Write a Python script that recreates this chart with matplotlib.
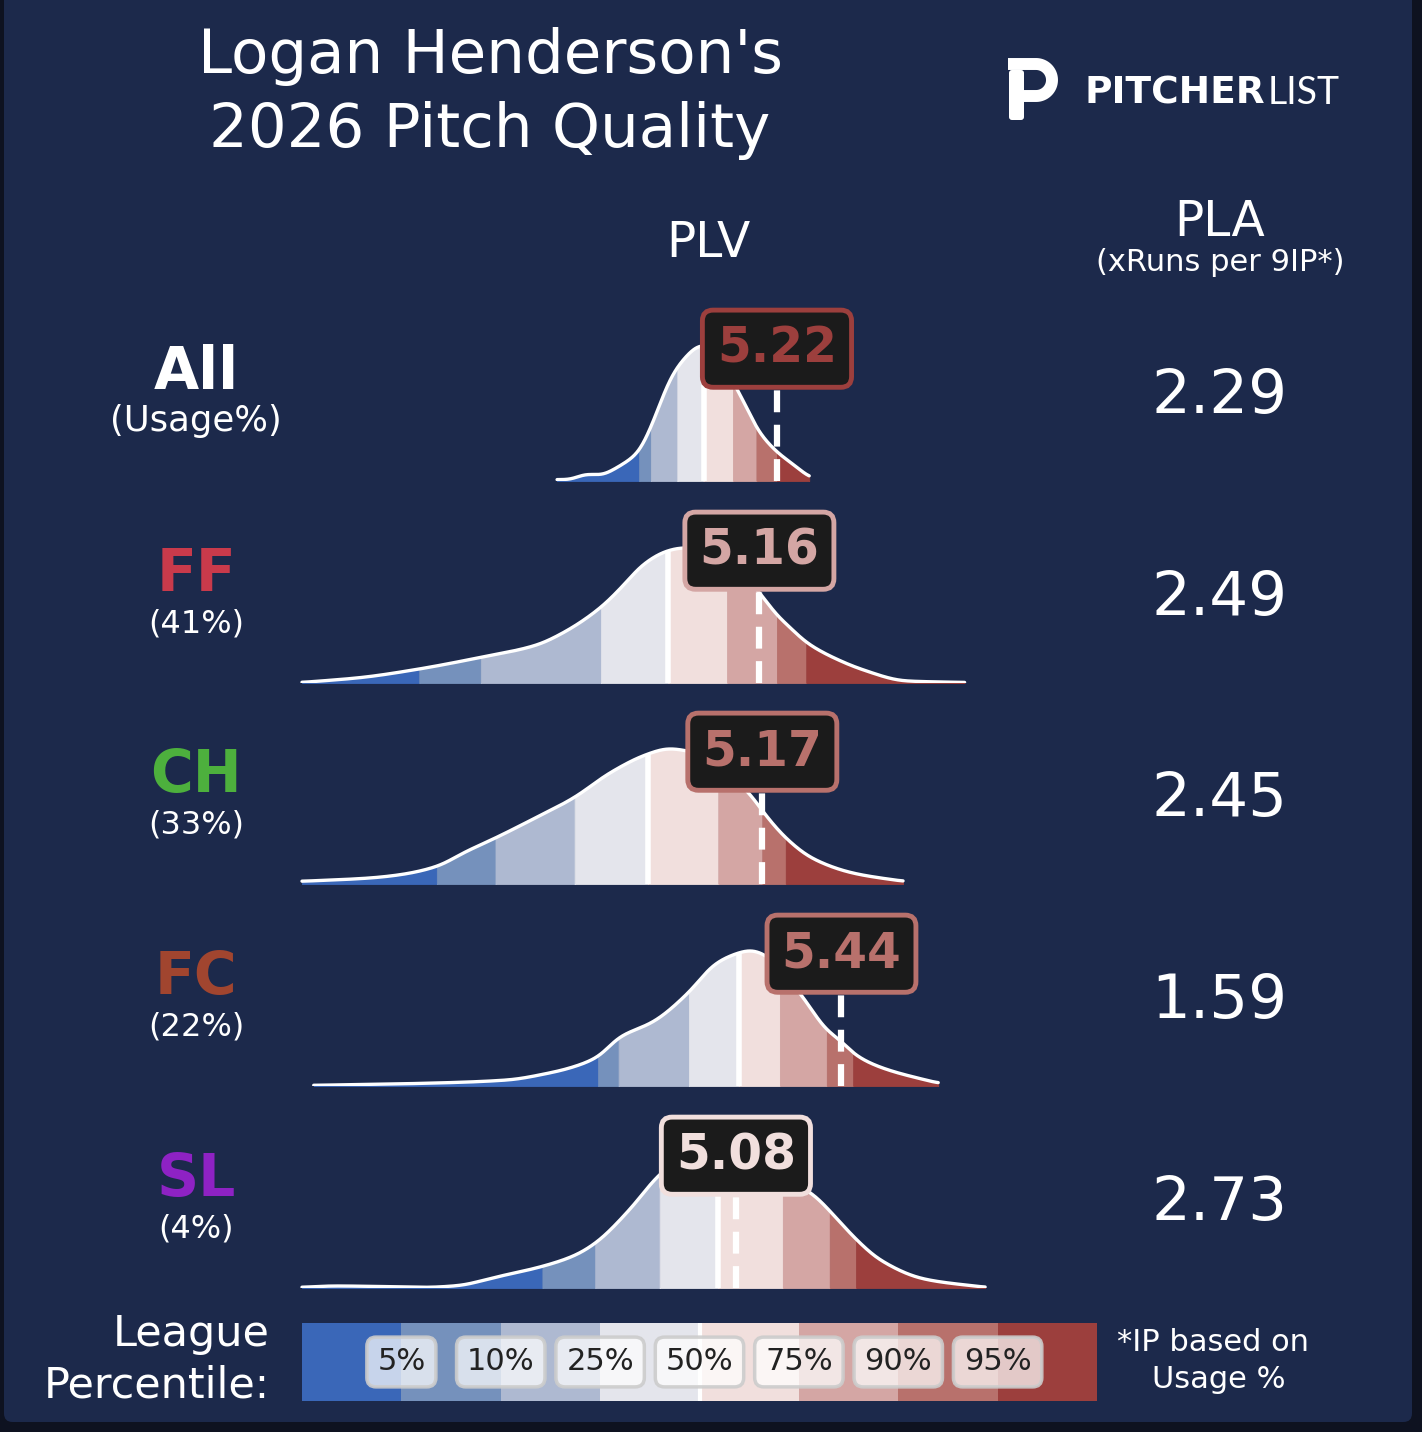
import numpy as np
import matplotlib
matplotlib.use("Agg")
import matplotlib.pyplot as plt
from matplotlib.patches import FancyBboxPatch

# ---------------- data ----------------
PITCHES = ["All", "FF", "CH", "FC", "SL"]
USAGE = ["(Usage%)", "(41%)", "(33%)", "(22%)", "(4%)"]
PITCH_COLORS = ["white", "#c93a4b", "#4db03d", "#a1452f", "#8e22c4"]
PLV = [5.22, 5.16, 5.17, 5.44, 5.08]
PLA = [2.29, 2.49, 2.45, 1.59, 2.73]

PCT_LABELS = ["5%", "10%", "25%", "50%", "75%", "90%", "95%"]
BAND_COLORS = ["#3a67b8", "#7591bc", "#aeb9d1", "#e4e5ec",
               "#f1dfdd", "#d4a6a4", "#b8716c", "#9c3f3d"]

# league percentile thresholds (5,10,25,50,75,90,95) per pitch
ALL_T = [4.75, 4.79, 4.88, 4.97, 5.07, 5.15, 5.22]
FF_T = [4.00, 4.21, 4.62, 4.85, 5.05, 5.22, 5.32]
CH_T = [4.06, 4.26, 4.53, 4.78, 5.02, 5.17, 5.25]
FC_T = [4.61, 4.68, 4.92, 5.09, 5.23, 5.39, 5.48]
SL_T = [4.42, 4.60, 4.82, 5.02, 5.24, 5.40, 5.49]

# density curves (PLV value, relative density)
ALL_X = [4.47, 4.52, 4.56, 4.59, 4.62, 4.66, 4.70, 4.75, 4.79, 4.81, 4.84, 4.88, 4.91,
         4.94, 4.97, 5.01, 5.04, 5.08, 5.12, 5.15, 5.21, 5.23, 5.27, 5.30, 5.33]
ALL_Y = [0.01, 0.01, 0.05, 0.05, 0.04, 0.08, 0.13, 0.21, 0.39, 0.49, 0.67, 0.83, 0.90,
         0.97, 0.99, 0.95, 0.84, 0.68, 0.52, 0.38, 0.23, 0.19, 0.13, 0.08, 0.02]
FF_X = [3.60, 3.80, 3.99, 4.21, 4.40, 4.49, 4.62, 4.70, 4.76, 4.85, 4.90, 4.96, 5.03,
        5.10, 5.16, 5.22, 5.26, 5.32, 5.44, 5.51, 5.66, 5.86]
FF_Y = [0.004, 0.04, 0.10, 0.19, 0.28, 0.37, 0.56, 0.73, 0.87, 0.98, 1.00, 0.99, 0.92,
        0.81, 0.67, 0.50, 0.42, 0.30, 0.16, 0.10, 0.015, 0.004]
CH_X = [3.60, 3.83, 3.94, 4.06, 4.16, 4.26, 4.38, 4.53, 4.65, 4.78, 4.85, 4.92, 4.99,
        5.06, 5.13, 5.17, 5.25, 5.34, 5.48, 5.65]
CH_Y = [0.02, 0.044, 0.07, 0.13, 0.24, 0.34, 0.47, 0.64, 0.82, 0.96, 1.00, 0.98, 0.92,
        0.80, 0.66, 0.54, 0.34, 0.19, 0.08, 0.02]
FC_X = [3.64, 4.02, 4.30, 4.44, 4.51, 4.61, 4.68, 4.80, 4.92, 5.01, 5.09, 5.13, 5.19,
        5.25, 5.31, 5.39, 5.44, 5.48, 5.57, 5.77]
FC_Y = [0.005, 0.02, 0.044, 0.094, 0.13, 0.215, 0.356, 0.474, 0.69, 0.90, 0.98, 1.00, 0.95,
        0.81, 0.65, 0.41, 0.33, 0.24, 0.14, 0.02]
SL_X = [3.60, 3.71, 3.87, 4.02, 4.13, 4.26, 4.42, 4.53, 4.60, 4.72, 4.82, 4.89, 4.96,
        5.03, 5.10, 5.16, 5.23, 5.30, 5.35, 5.40, 5.49, 5.57, 5.72, 5.93]
SL_Y = [0.005, 0.015, 0.011, 0.005, 0.017, 0.08, 0.16, 0.24, 0.33, 0.585, 0.84, 0.95, 0.99,
        1.00, 0.96, 0.90, 0.83, 0.75, 0.68, 0.57, 0.36, 0.21, 0.067, 0.005]

THRESHOLDS = [ALL_T, FF_T, CH_T, FC_T, SL_T]
CURVES_X = [ALL_X, FF_X, CH_X, FC_X, SL_X]
CURVES_Y = [ALL_Y, FF_Y, CH_Y, FC_Y, SL_Y]

TITLE_1 = "Logan Henderson's"
TITLE_2 = "2026 Pitch Quality"

# ---------------- layout ----------------
W, H = 1422, 1432
BG = "#1c294b"
FRAME = "#0e1220"
XLIM = (2.57, 7.42)          # PLV range spanning the full figure width
ROW_BASE = [481, 683, 884, 1086, 1288]   # baselines (px from top)
PEAK_PX = 135.0
ROW_H = 195.0


def fx(px):
    return px / W


def fy(py):
    return 1 - py / H


def pchip(x, y, xn):
    x = np.asarray(x, float)
    y = np.asarray(y, float)
    h = np.diff(x)
    d = np.diff(y) / h
    n = len(x)
    m = np.zeros(n)
    for k in range(1, n - 1):
        if d[k - 1] * d[k] > 0:
            w1 = 2 * h[k] + h[k - 1]
            w2 = h[k] + 2 * h[k - 1]
            m[k] = (w1 + w2) / (w1 / d[k - 1] + w2 / d[k])
    m[0] = d[0]
    m[-1] = d[-1]
    xn = np.asarray(xn, float)
    i = np.clip(np.searchsorted(x, xn) - 1, 0, n - 2)
    t = (xn - x[i]) / h[i]
    h00 = 2 * t**3 - 3 * t**2 + 1
    h10 = t**3 - 2 * t**2 + t
    h01 = -2 * t**3 + 3 * t**2
    h11 = t**3 - t**2
    return np.clip(h00 * y[i] + h10 * h[i] * m[i] + h01 * y[i + 1] + h11 * h[i] * m[i + 1], 0, None)


def smooth_curve(x, y, step=0.002, sigma=0.022):
    grid = np.arange(x[0], x[-1] + step / 2, step)
    vals = pchip(x, y, grid)
    half = int(4 * sigma / step)
    ker = np.exp(-0.5 * (np.arange(-half, half + 1) * step / sigma) ** 2)
    ker /= ker.sum()
    padded = np.concatenate([np.full(half, vals[0]), vals, np.full(half, vals[-1])])
    sm = np.convolve(padded, ker, mode="valid")
    return grid, sm / sm.max()


fig = plt.figure(figsize=(W / 100, H / 100), dpi=100, facecolor=FRAME)
fig.add_artist(FancyBboxPatch((fx(4), fy(1422)), fx(1408), 1.0,
                              boxstyle="round,pad=0,rounding_size=0.006",
                              transform=fig.transFigure, facecolor=BG,
                              edgecolor="none", zorder=0))

# ---------------- title & headers ----------------
fig.text(fx(490), fy(73), TITLE_1, ha="center", va="baseline", fontsize=44, color="white")
fig.text(fx(490), fy(147), TITLE_2, ha="center", va="baseline", fontsize=44, color="white")
fig.text(fx(708), fy(257), "PLV", ha="center", va="baseline", fontsize=35, color="white")
fig.text(fx(1220), fy(236), "PLA", ha="center", va="baseline", fontsize=35, color="white")
fig.text(fx(1220), fy(271), "(xRuns per 9IP*)", ha="center", va="baseline", fontsize=22, color="white")

# ---------------- logo ----------------
lax = fig.add_axes([fx(995), fy(128), fx(75), 78 / H])
lax.set_xlim(995, 1070)
lax.set_ylim(128, 50)
lax.axis("off")
lax.add_patch(FancyBboxPatch((1009, 70), 15, 50, boxstyle="round,pad=0,rounding_size=3",
                             facecolor="white", edgecolor="none"))
ang = np.linspace(-np.pi / 2, np.pi / 2, 60)
bx = np.concatenate([[1008], 1036 + 16 * np.cos(ang), [1020]])
by = np.concatenate([[64], 80 + 16 * np.sin(ang), [96]])
lax.plot(bx, by, color="white", lw=8.6, solid_capstyle="butt", solid_joinstyle="round")
fig.text(fx(1265), fy(104), "PITCHER", ha="right", va="baseline", fontsize=27,
         fontweight="bold", color="white")
fig.text(fx(1268), fy(104), "LIST", ha="left", va="baseline", fontsize=27,
         family=["Lato", "DejaVu Sans"], color="white")

# ---------------- rows ----------------
for i, name in enumerate(PITCHES):
    b = ROW_BASE[i]
    ax = fig.add_axes([0, fy(b), 1, ROW_H / H])
    ax.set_xlim(*XLIM)
    ax.set_ylim(0, ROW_H / PEAK_PX)
    ax.axis("off")

    gx, gy = smooth_curve(np.asarray(CURVES_X[i], float), np.asarray(CURVES_Y[i], float))
    thr = THRESHOLDS[i]

    def f(v, gx=gx, gy=gy):
        return np.interp(v, gx, gy)

    edges = [gx[0]] + list(thr) + [gx[-1]]
    for k in range(8):
        lo = max(edges[k], gx[0])
        hi = min(edges[k + 1], gx[-1])
        if hi > lo:
            seg = np.linspace(lo, hi, 200)
            ax.fill_between(seg, 0, f(seg), facecolor=BAND_COLORS[k],
                            edgecolor=BAND_COLORS[k], lw=0.6, zorder=1)

    med = thr[3]
    ax.plot([med, med], [0, float(f(med))], color="white", lw=4,
            solid_capstyle="butt", zorder=2)
    ax.plot(gx, gy, color="white", lw=2.4, solid_capstyle="round", zorder=3)

    v = PLV[i]
    ax.plot([v, v], [0, 1.0], color="white", lw=4.5, dashes=(3.5, 2),
            dash_capstyle="butt", zorder=4)
    c = BAND_COLORS[int(np.searchsorted(thr, v + 1e-9, side="right"))]
    ax.text(v, 0.98, f"{v:.2f}", ha="center", va="center", fontsize=35,
            fontweight="bold", color=c, zorder=6, clip_on=False,
            bbox=dict(boxstyle="round,pad=0.3,rounding_size=0.22",
                      fc="#1b1b1b", ec=c, lw=3.5))

    fig.text(fx(196), fy(b - 92), name, ha="center", va="baseline", fontsize=42,
             fontweight="bold", color=PITCH_COLORS[i])
    fig.text(fx(196), fy(b - 50), USAGE[i], ha="center", va="baseline",
             fontsize=25.5 if i == 0 else 23, color="white")
    fig.text(fx(1219), fy(b - 68), f"{PLA[i]:.2f}", ha="center", va="baseline",
             fontsize=44, color="white")

# ---------------- legend bar ----------------
gax = fig.add_axes([fx(302), fy(1401), fx(795), 78 / H])
gax.set_xlim(0, 8)
gax.set_ylim(0, 1)
gax.axis("off")
gax.bar(np.arange(8) + 0.5, 1, width=1.0, color=BAND_COLORS, lw=0)
gax.plot([4, 4], [0, 1], color="white", lw=3)
for k, lab in enumerate(PCT_LABELS):
    gax.text(k + 1, 0.5, lab, ha="center", va="center", fontsize=22, color="#222222",
             bbox=dict(boxstyle="round,pad=0.34,rounding_size=0.3",
                       fc=(1, 1, 1, 0.72), ec=(0.8, 0.8, 0.8, 0.9), lw=2.5))

fig.text(fx(270), fy(1346), "League", ha="right", va="baseline", fontsize=31, color="white")
fig.text(fx(270), fy(1398), "Percentile:", ha="right", va="baseline", fontsize=31, color="white")
fig.text(fx(1213), fy(1351), "*IP based on", ha="center", va="baseline", fontsize=22, color="white")
fig.text(fx(1219), fy(1388), "Usage %", ha="center", va="baseline", fontsize=22, color="white")

fig.savefig("out.png", dpi=100, facecolor=FRAME)
